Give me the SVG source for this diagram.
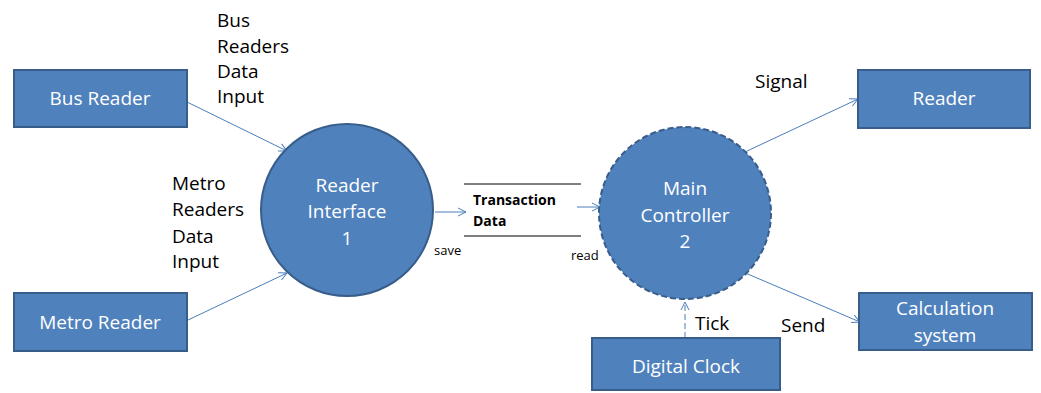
<svg xmlns="http://www.w3.org/2000/svg" width="1041" height="393" viewBox="0 0 1041 393">
<defs>
<style>
.box{fill:#4F81BD;stroke:#385D8A;stroke-width:2}
.proc{fill:#4F81BD;stroke:#385D8A;stroke-width:2}
.dash{stroke-dasharray:6 3}
.wt{font-family:"Open Sans","Noto Sans",sans-serif;font-size:19px;fill:#ffffff;text-anchor:middle}
.lbl{font-family:"Open Sans","Noto Sans",sans-serif;font-size:19px;fill:#000000}
.sm{font-family:"Open Sans","Noto Sans",sans-serif;font-size:13px;fill:#000000}
.bold{font-family:"Open Sans","Noto Sans",sans-serif;font-size:14px;font-weight:bold;fill:#000000}
.conn{stroke:#4A7EBB;stroke-width:1;fill:none;marker-end:url(#arr)}
.store{stroke:#000000;stroke-width:1}
</style>
<marker id="arr" markerWidth="10" markerHeight="10" refX="9" refY="5" orient="auto" markerUnits="userSpaceOnUse">
<path d="M1,1 L9,5 L1,9" fill="none" stroke="#4A7EBB" stroke-width="1"/>
</marker>
</defs>
<rect width="1041" height="393" fill="#ffffff"/>

<g id="connectors">
<line class="conn" x1="187" y1="102" x2="287" y2="151"/>
<line class="conn" x1="188" y1="320" x2="287" y2="273"/>
<line class="conn" x1="435" y1="212" x2="466" y2="212"/>
<line class="conn" x1="577" y1="207" x2="600" y2="207"/>
<line class="conn" x1="745" y1="152" x2="858" y2="99"/>
<line class="conn" x1="743" y1="272" x2="860" y2="322"/>
<line class="conn dash" x1="685" y1="338" x2="685" y2="302" stroke-dasharray="4 2"/>
<text class="lbl" x="217" y="27">Bus</text>
<text class="lbl" x="217" y="53">Readers</text>
<text class="lbl" x="217" y="78">Data</text>
<text class="lbl" x="217" y="103">Input</text>
<text class="lbl" x="172" y="190">Metro</text>
<text class="lbl" x="172" y="216">Readers</text>
<text class="lbl" x="172" y="243">Data</text>
<text class="lbl" x="172" y="268">Input</text>
<text class="sm" x="434" y="255">save</text>
<text class="sm" x="571" y="260">read</text>
<text class="lbl" x="755" y="88">Signal</text>
<text class="lbl" x="781" y="332">Send</text>
<text class="lbl" x="695" y="330">Tick</text>
</g>

<g id="bus-reader">
<rect class="box" x="14" y="70" width="173" height="57"/>
<text class="wt" x="100" y="105">Bus Reader</text>
</g>
<g id="metro-reader">
<rect class="box" x="14" y="293" width="173" height="58"/>
<text class="wt" x="100" y="329">Metro Reader</text>
</g>
<g id="reader-interface">
<circle class="proc" cx="347" cy="210" r="86"/>
<text class="wt" x="347" y="192">Reader</text>
<text class="wt" x="347" y="218">Interface</text>
<text class="wt" x="347" y="245">1</text>
</g>
<g id="transaction-data">
<line class="store" x1="464" y1="184" x2="581" y2="184"/>
<line class="store" x1="464" y1="236" x2="581" y2="236"/>
<text class="bold" x="473" y="205">Transaction</text>
<text class="bold" x="473" y="226">Data</text>
</g>
<g id="main-controller">
<circle class="proc dash" cx="685" cy="213" r="86"/>
<text class="wt" x="685" y="195">Main</text>
<text class="wt" x="685" y="222">Controller</text>
<text class="wt" x="685" y="248">2</text>
</g>
<g id="reader">
<rect class="box" x="858" y="70" width="172" height="58"/>
<text class="wt" x="944" y="105">Reader</text>
</g>
<g id="calculation-system">
<rect class="box" x="859" y="293" width="173" height="57"/>
<text class="wt" x="945" y="315">Calculation</text>
<text class="wt" x="945" y="342">system</text>
</g>
<g id="digital-clock">
<rect class="box" x="592" y="338" width="188" height="52"/>
<text class="wt" x="686" y="373">Digital Clock</text>
</g>
</svg>
